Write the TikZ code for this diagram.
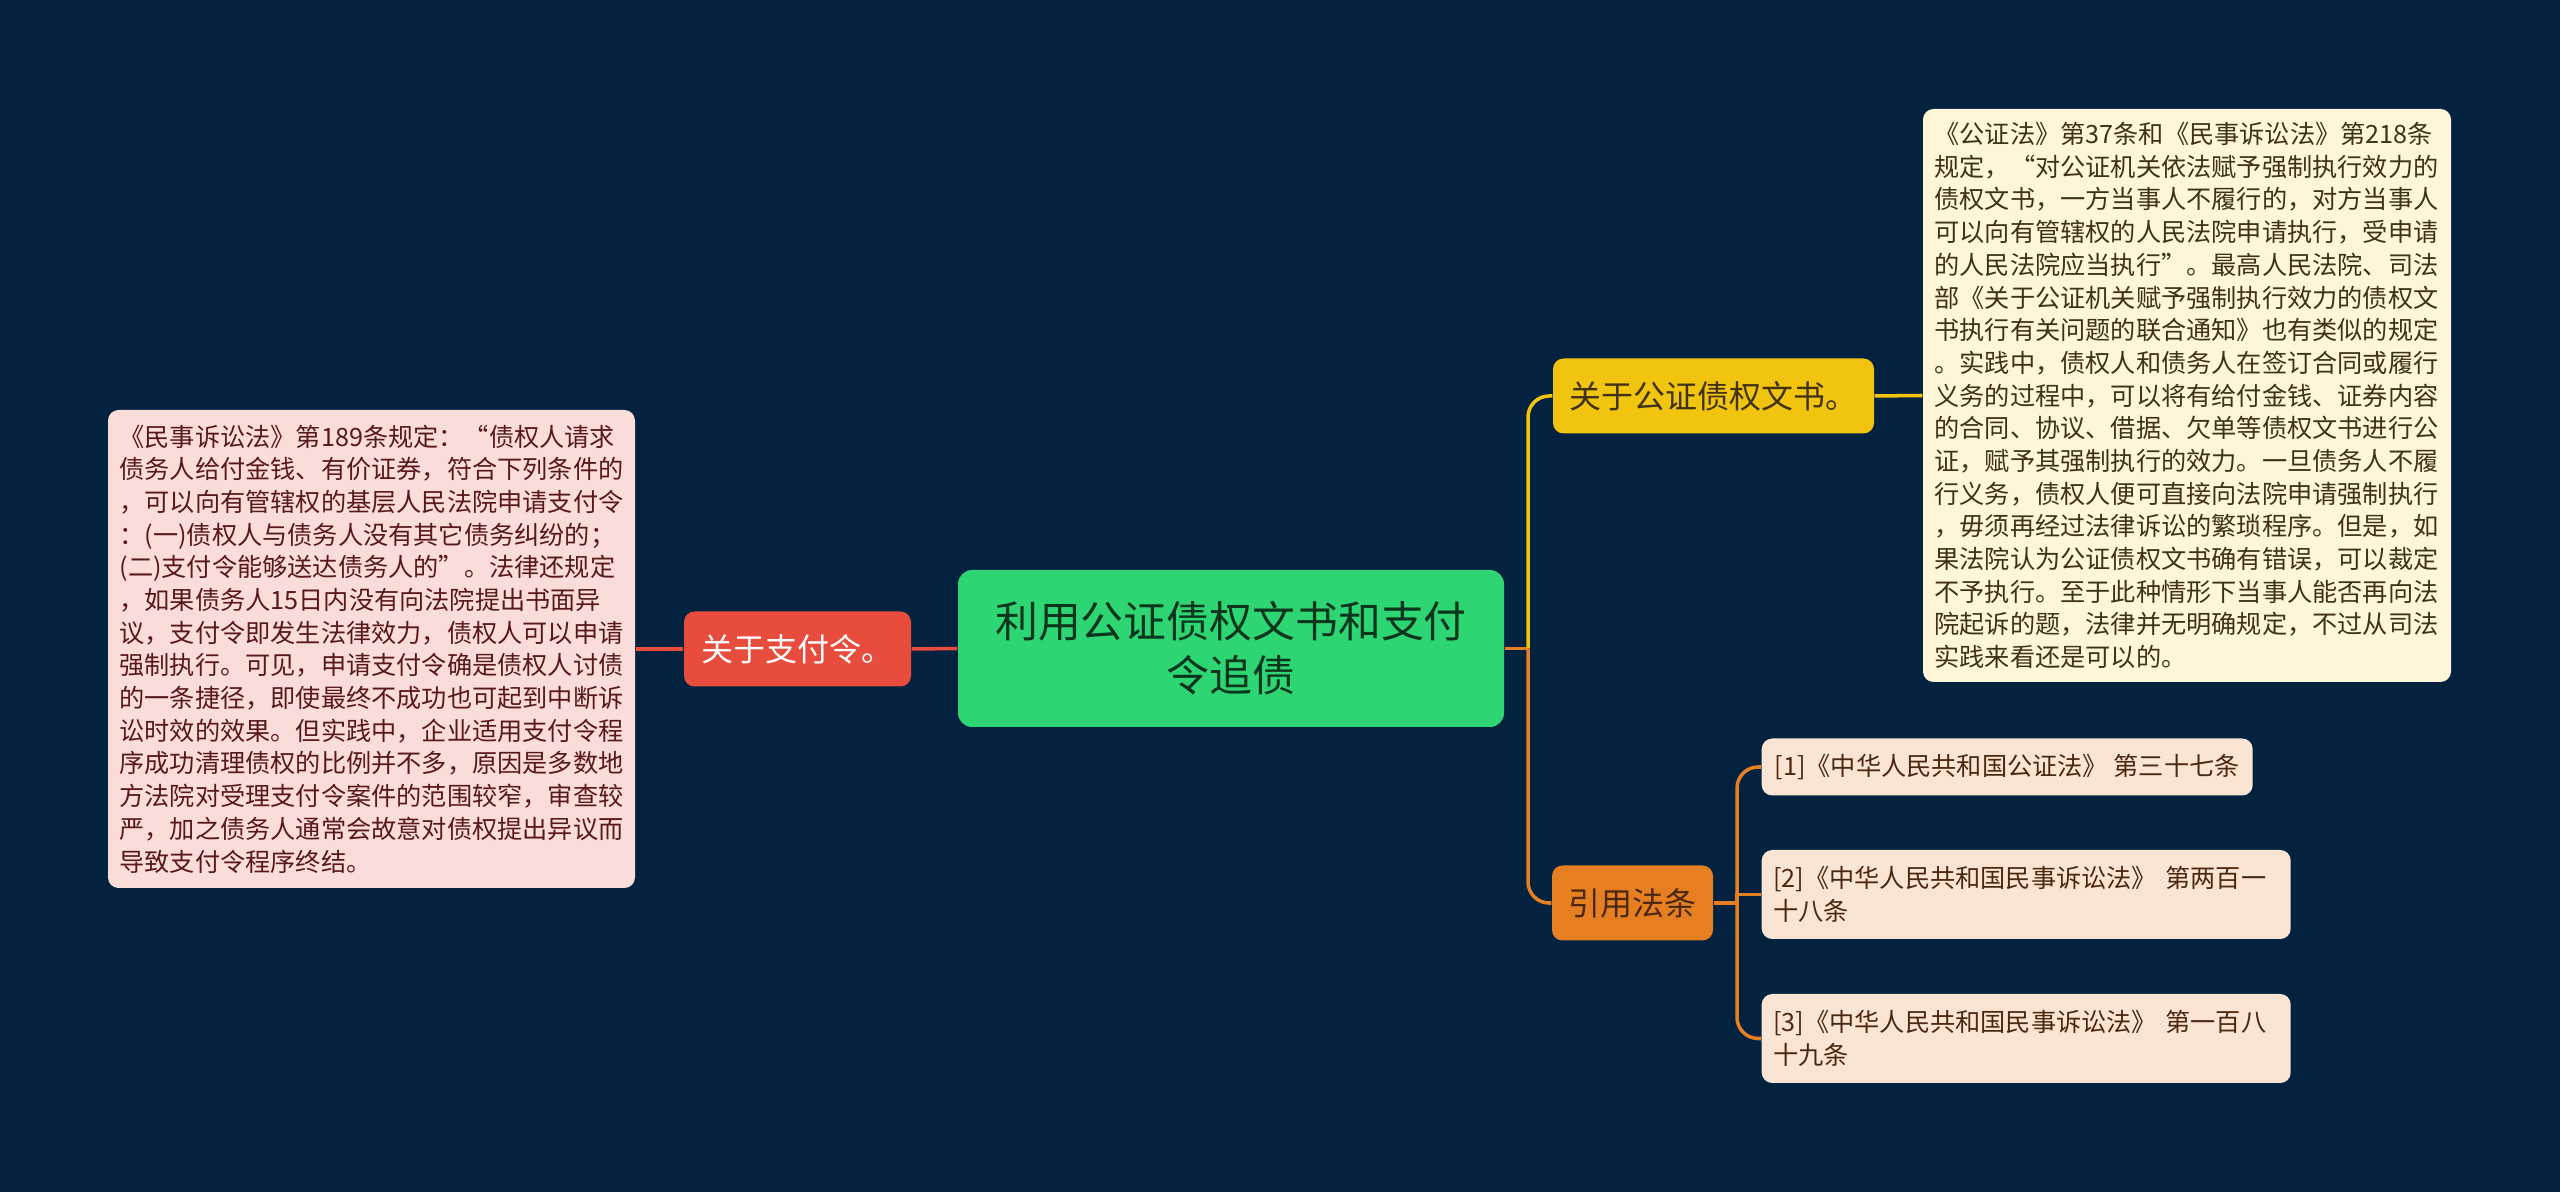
\documentclass[tikz,border=0pt]{standalone}
\usepackage{fontspec}
\newfontfamily\cjk{Noto Sans CJK SC}
\usetikzlibrary{positioning,calc}
\definecolor{night}{RGB}{2,34,64}
\definecolor{mint}{RGB}{46,213,115}
\definecolor{tomato}{RGB}{231,76,60}
\definecolor{gold}{RGB}{241,196,15}
\definecolor{tangerine}{RGB}{230,126,34}
\definecolor{blush}{RGB}{250,220,217}
\definecolor{cream}{RGB}{253,246,215}
\definecolor{peach}{RGB}{250,229,212}
\definecolor{wine}{RGB}{90,25,25}
\definecolor{umber}{RGB}{65,50,20}
\definecolor{cocoa}{RGB}{75,40,15}
\tikzset{
  root/.style={fill=mint,rounded corners=4pt,minimum width=54.6mm,minimum height=15.7mm,
    align=center,text=mint!25!black,font=\cjk\fontsize{12.2}{15.3}\selectfont},
  topic/.style={fill=#1,rounded corners=3pt,minimum height=7.5mm,inner xsep=0pt,
    font=\cjk\fontsize{9.1}{11}\selectfont},
  leaf/.style={fill=#1,rounded corners=3pt,align=left,inner xsep=1.15mm,inner ysep=0pt,
    font=\cjk\fontsize{7.17}{9.3}\selectfont},
  link/.style={draw=#1,line width=1pt},
}

\begin{document}
\begin{tikzpicture}
  \fill[night] (0,0) rectangle (25.6,11.92);
  \useasboundingbox (0,0) rectangle (25.6,11.92);
  % centre
  \node[root] (main) at (12.31,5.435) {利用公证债权文书和支付\\令追债};
  % left branch
  \node[topic=tomato,text=white,minimum width=22.7mm] (pay) at (7.975,5.43) {关于支付令。};
  \node[leaf=blush,text=wine,text width=50.4mm,minimum height=47.8mm] (law) at (3.715,5.43)
    {《民事诉讼法》第189条规定：“债权人请求\\
     债务人给付金钱、有价证券，符合下列条件的\\
     ，可以向有管辖权的基层人民法院申请支付令\\
     ：(一)债权人与债务人没有其它债务纠纷的；\\
     (二)支付令能够送达债务人的”。法律还规定\\
     ，如果债务人15日内没有向法院提出书面异\\
     议，支付令即发生法律效力，债权人可以申请\\
     强制执行。可见，申请支付令确是债权人讨债\\
     的一条捷径，即使最终不成功也可起到中断诉\\
     讼时效的效果。但实践中，企业适用支付令程\\
     序成功清理债权的比例并不多，原因是多数地\\
     方法院对受理支付令案件的范围较窄，审查较\\
     严，加之债务人通常会故意对债权提出异议而\\
     导致支付令程序终结。};
  % right branches
  \node[topic=gold,text=umber,minimum width=32.1mm] (pub) at (17.135,7.96) {关于公证债权文书。};
  \node[leaf=cream,text=umber,text width=50.5mm,minimum height=57.3mm] (note) at (21.87,7.965)
    {《公证法》第37条和《民事诉讼法》第218条\\
     规定，“对公证机关依法赋予强制执行效力的\\
     债权文书，一方当事人不履行的，对方当事人\\
     可以向有管辖权的人民法院申请执行，受申请\\
     的人民法院应当执行”。最高人民法院、司法\\
     部《关于公证机关赋予强制执行效力的债权文\\
     书执行有关问题的联合通知》也有类似的规定\\
     。实践中，债权人和债务人在签订合同或履行\\
     义务的过程中，可以将有给付金钱、证券内容\\
     的合同、协议、借据、欠单等债权文书进行公\\
     证，赋予其强制执行的效力。一旦债务人不履\\
     行义务，债权人便可直接向法院申请强制执行\\
     ，毋须再经过法律诉讼的繁琐程序。但是，如\\
     果法院认为公证债权文书确有错误，可以裁定\\
     不予执行。至于此种情形下当事人能否再向法\\
     院起诉的题，法律并无明确规定，不过从司法\\
     实践来看还是可以的。};
  \node[topic=tangerine,text=cocoa,minimum width=16.1mm] (cite) at (16.325,2.89) {引用法条};
  \node[leaf=peach,text=cocoa,anchor=west,minimum height=5.7mm,minimum width=49.1mm] (ref1) at (17.61,4.25)
    {[1]《中华人民共和国公证法》 第三十七条};
  \node[leaf=peach,text=cocoa,anchor=west,text width=50.6mm,minimum height=8.9mm] (ref2) at (17.61,2.975)
    {[2]《中华人民共和国民事诉讼法》 第两百一\\十八条};
  \node[leaf=peach,text=cocoa,anchor=west,text width=50.6mm,minimum height=8.9mm] (ref3) at (17.61,1.535)
    {[3]《中华人民共和国民事诉讼法》 第一百八\\十九条};
  % connectors
  \draw[link=tomato] (main.west) -- (pay.east);
  \draw[link=tomato] (pay.west) -- (law.east);
  \coordinate (fork) at (15.28,5.435);
  \draw[link=tangerine] (main.east) -- (fork);
  \draw[link=gold,rounded corners=6pt] (fork) |- (pub.west);
  \draw[link=tangerine,rounded corners=6pt] (fork) |- (cite.west);
  \draw[link=gold] (pub.east) -- (note.west);
  \coordinate (twig) at (17.37,2.89);
  \draw[link=tangerine] (cite.east) -- (twig);
  \draw[link=tangerine,rounded corners=6pt] (twig) |- (ref1.west);
  \draw[link=tangerine] (twig) |- (ref2.west);
  \draw[link=tangerine,rounded corners=6pt] (twig) |- (ref3.west);
\end{tikzpicture}
\end{document}
